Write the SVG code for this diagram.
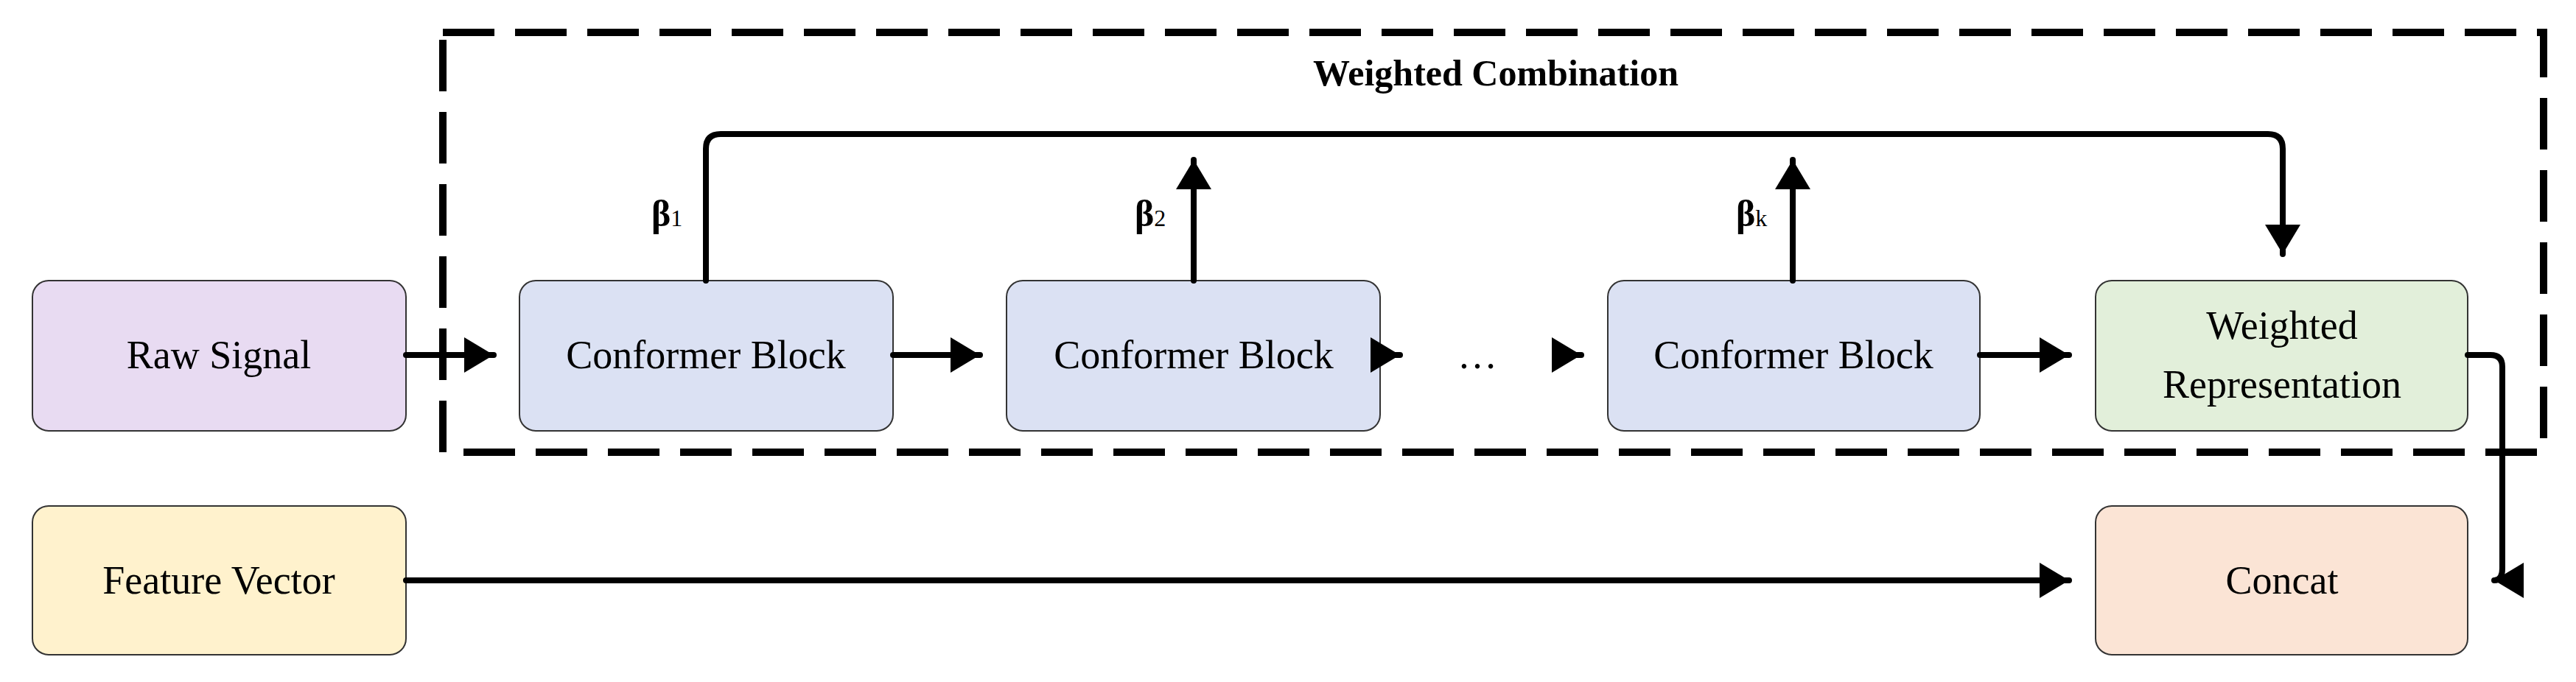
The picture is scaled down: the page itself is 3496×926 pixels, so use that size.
<svg xmlns="http://www.w3.org/2000/svg" width="3496" height="926" viewBox="0 0 3496 926">
<defs>
<marker id="ah" markerWidth="6" markerHeight="6" refX="5" refY="3" orient="auto" markerUnits="strokeWidth"><path d="M0,0 L5,3 L0,6 Z" fill="#000"/></marker>
<style>
.box{stroke:#333;stroke-width:2}
.t{font-family:"Liberation Serif",serif;font-size:54px;text-anchor:middle;fill:#000}
.b{font-family:"Liberation Serif",serif;font-size:50px;font-weight:bold;fill:#000}
.c{fill:none;stroke:#000;stroke-width:8;stroke-linecap:round;stroke-linejoin:round}
</style>
</defs>
<rect x="0" y="0" width="3496" height="926" fill="#fff"/>
<rect x="601" y="44" width="2851" height="570" fill="none" stroke="#000" stroke-width="10" stroke-dasharray="70,28"/>
<text x="2030" y="116" class="b" text-anchor="middle" font-size="48">Weighted Combination</text>
<g id="raw"><rect class="box" x="44" y="381" width="507" height="204" rx="22" fill="#e8dbf2"/><text class="t" x="297" y="500">Raw Signal</text></g>
<g id="feat"><rect class="box" x="44" y="687" width="507" height="202" rx="22" fill="#fff2cd"/><text class="t" x="297" y="806">Feature Vector</text></g>
<g id="cb1"><rect class="box" x="705" y="381" width="507" height="204" rx="22" fill="#dbe1f3"/><text class="t" x="958" y="500">Conformer Block</text></g>
<g id="cb2"><rect class="box" x="1366" y="381" width="507" height="204" rx="22" fill="#dbe1f3"/><text class="t" x="1620" y="500">Conformer Block</text></g>
<g id="cb3"><rect class="box" x="2182" y="381" width="505" height="204" rx="22" fill="#dbe1f3"/><text class="t" x="2434" y="500">Conformer Block</text></g>
<g id="wr"><rect class="box" x="2844" y="381" width="505" height="204" rx="22" fill="#e2efda"/><text class="t" x="3097" y="460">Weighted</text><text class="t" x="3097" y="540">Representation</text></g>
<g id="concat"><rect class="box" x="2844" y="687" width="505" height="202" rx="22" fill="#fbe4d5"/><text class="t" x="3097" y="806">Concat</text></g>
<text class="t" x="2005" y="500">…</text>
<g id="labels">
<text class="b" x="884" y="307">β<tspan font-size="32" font-weight="normal">1</tspan></text>
<text class="b" x="1540" y="307">β<tspan font-size="32" font-weight="normal">2</tspan></text>
<text class="b" x="2356" y="307">β<tspan font-size="32" font-weight="normal">k</tspan></text>
</g>
<g id="connectors">
<path class="c" d="M551,482 H670" marker-end="url(#ah)"/>
<path class="c" d="M1212,482 H1330" marker-end="url(#ah)"/>
<path class="c" d="M1873,482 H1900" marker-end="url(#ah)"/>
<path class="c" d="M2128,482 H2146" marker-end="url(#ah)"/>
<path class="c" d="M2687,482 H2808" marker-end="url(#ah)"/>
<path class="c" d="M551,788 H2808" marker-end="url(#ah)"/>
<path class="c" d="M958,381 V202 Q958,182 978,182 H3078 Q3098,182 3098,202 V345" marker-end="url(#ah)"/>
<path class="c" d="M1620,381 V217" marker-end="url(#ah)"/>
<path class="c" d="M2433,381 V217" marker-end="url(#ah)"/>
<path class="c" d="M3349,482 H3380 Q3396,482 3396,498 V772 Q3396,788 3385,788" marker-end="url(#ah)"/>
</g>
</svg>
